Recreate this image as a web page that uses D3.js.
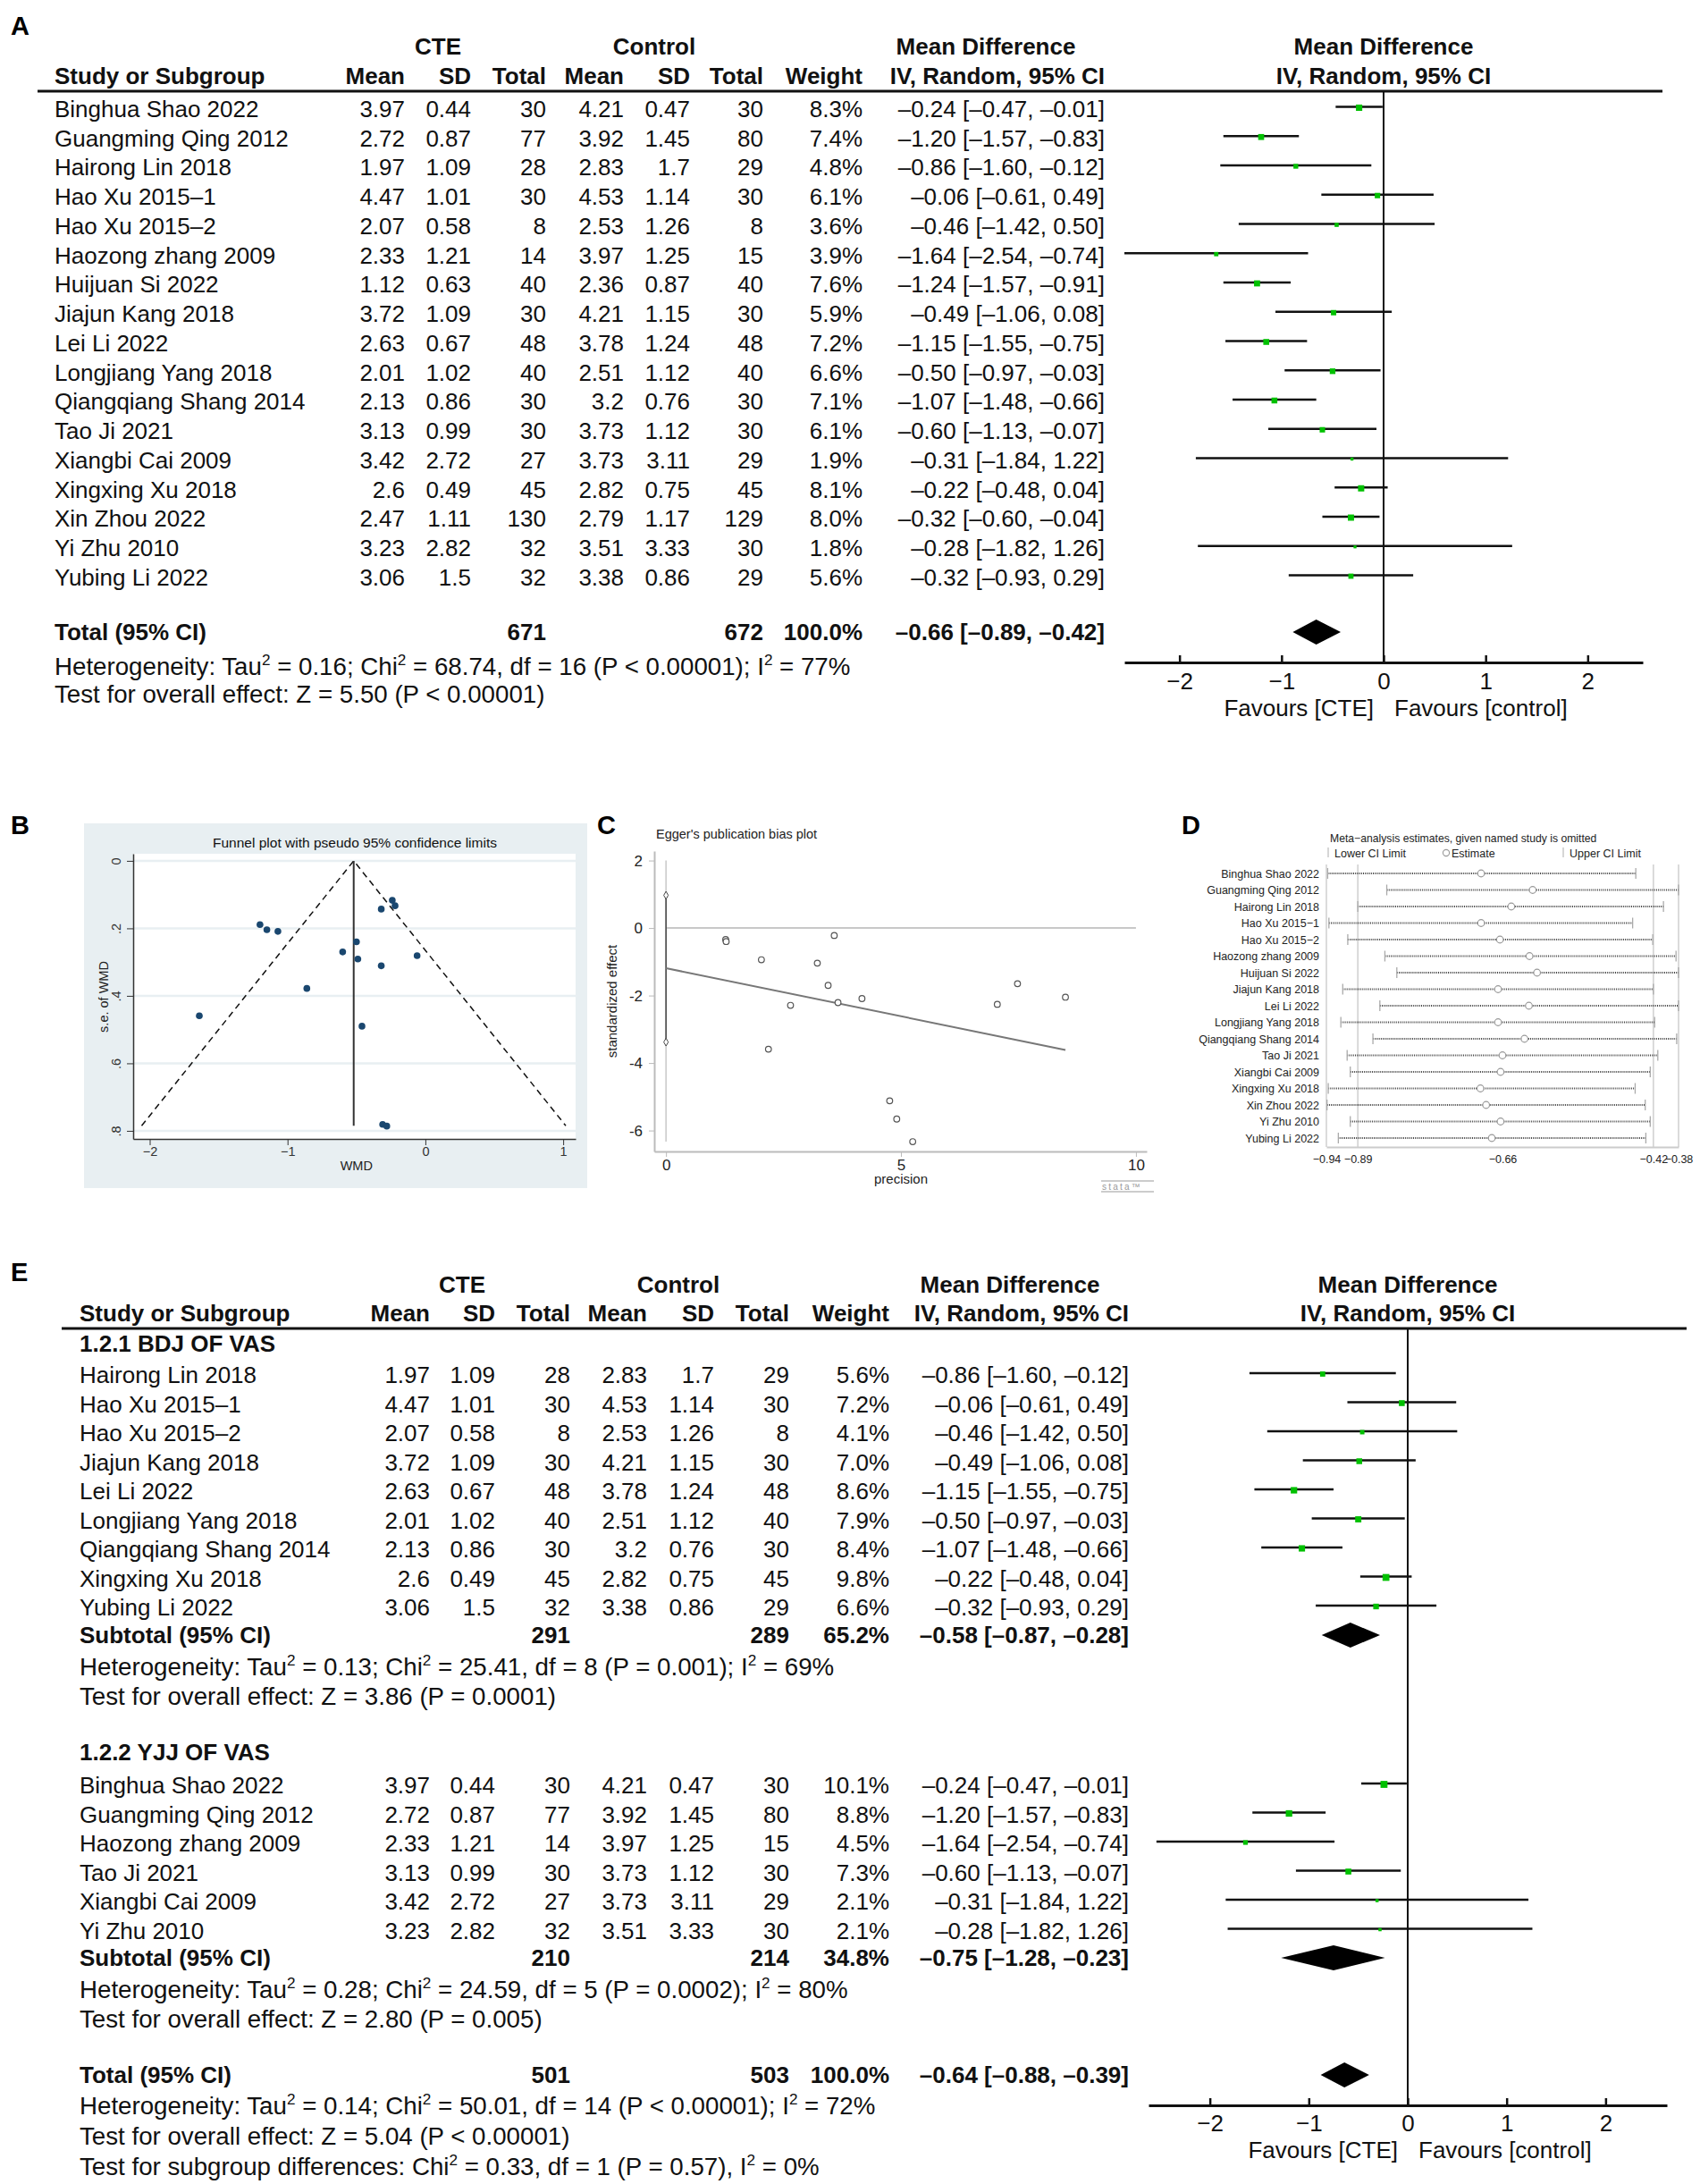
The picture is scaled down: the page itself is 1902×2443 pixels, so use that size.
<!DOCTYPE html>
<html><head><meta charset="utf-8">
<script src="https://cdn.jsdelivr.net/npm/d3@7"></script>
<style>body{margin:0;background:#fff} svg{display:block} text{font-family:"Liberation Sans",Arial,Helvetica,sans-serif}</style>
</head><body><svg id="c" width="1902" height="2443"></svg>
<script>
// ---------------- DATA ----------------
const studies = ["Binghua Shao 2022","Guangming Qing 2012","Hairong Lin 2018","Hao Xu 2015–1","Hao Xu 2015–2","Haozong zhang 2009","Huijuan Si 2022","Jiajun Kang 2018","Lei Li 2022","Longjiang Yang 2018","Qiangqiang Shang 2014","Tao Ji 2021","Xiangbi Cai 2009","Xingxing Xu 2018","Xin Zhou 2022","Yi Zhu 2010","Yubing Li 2022"];
const cteMean = [3.97,2.72,1.97,4.47,2.07,2.33,1.12,3.72,2.63,2.01,2.13,3.13,3.42,2.6,2.47,3.23,3.06];
const cteSD   = [0.44,0.87,1.09,1.01,0.58,1.21,0.63,1.09,0.67,1.02,0.86,0.99,2.72,0.49,1.11,2.82,1.5];
const cteN    = [30,77,28,30,8,14,40,30,48,40,30,30,27,45,130,32,32];
const ctlMean = [4.21,3.92,2.83,4.53,2.53,3.97,2.36,4.21,3.78,2.51,3.2,3.73,3.73,2.82,2.79,3.51,3.38];
const ctlSD   = [0.47,1.45,1.7,1.14,1.26,1.25,0.87,1.15,1.24,1.12,0.76,1.12,3.11,0.75,1.17,3.33,0.86];
const ctlN    = [30,80,29,30,8,15,40,30,48,40,30,30,29,45,129,30,29];
const weightA = [8.3,7.4,4.8,6.1,3.6,3.9,7.6,5.9,7.2,6.6,7.1,6.1,1.9,8.1,8.0,1.8,5.6];
const mdVal   = [-0.24,-1.20,-0.86,-0.06,-0.46,-1.64,-1.24,-0.49,-1.15,-0.50,-1.07,-0.60,-0.31,-0.22,-0.32,-0.28,-0.32];
const mdLo    = [-0.47,-1.57,-1.60,-0.61,-1.42,-2.54,-1.57,-1.06,-1.55,-0.97,-1.48,-1.13,-1.84,-0.48,-0.60,-1.82,-0.93];
const mdHi    = [-0.01,-0.83,-0.12,0.49,0.50,-0.74,-0.91,0.08,-0.75,-0.03,-0.66,-0.07,1.22,0.04,-0.04,1.26,0.29];
const totalA  = [671, 672, 100.0, -0.66, -0.89, -0.42];
const notesA  = ["Heterogeneity: Tau² = 0.16; Chi² = 68.74, df = 16 (P < 0.00001); I² = 77%","Test for overall effect: Z = 5.50 (P < 0.00001)"];

const groupNames    = ["1.2.1 BDJ OF VAS","1.2.2 YJJ OF VAS"];
const group1Studies = ["Hairong Lin 2018","Hao Xu 2015–1","Hao Xu 2015–2","Jiajun Kang 2018","Lei Li 2022","Longjiang Yang 2018","Qiangqiang Shang 2014","Xingxing Xu 2018","Yubing Li 2022"];
const group1Weights = [5.6,7.2,4.1,7.0,8.6,7.9,8.4,9.8,6.6];
const group2Studies = ["Binghua Shao 2022","Guangming Qing 2012","Haozong zhang 2009","Tao Ji 2021","Xiangbi Cai 2009","Yi Zhu 2010"];
const group2Weights = [10.1,8.8,4.5,7.3,2.1,2.1];
const subtotal1 = [291, 289, 65.2, -0.58, -0.87, -0.28];
const subtotal2 = [210, 214, 34.8, -0.75, -1.28, -0.23];
const totalE    = [501, 503, 100.0, -0.64, -0.88, -0.39];
const notes1 = ["Heterogeneity: Tau² = 0.13; Chi² = 25.41, df = 8 (P = 0.001); I² = 69%","Test for overall effect: Z = 3.86 (P = 0.0001)"];
const notes2 = ["Heterogeneity: Tau² = 0.28; Chi² = 24.59, df = 5 (P = 0.0002); I² = 80%","Test for overall effect: Z = 2.80 (P = 0.005)"];
const notesE = ["Heterogeneity: Tau² = 0.14; Chi² = 50.01, df = 14 (P < 0.00001); I² = 72%","Test for overall effect: Z = 5.04 (P < 0.00001)","Test for subgroup differences: Chi² = 0.33, df = 1 (P = 0.57), I² = 0%"];

const axisTicks = [-2,-1,0,1,2];

// Funnel plot (B)
const funnelWMD = [-0.24,-0.22,-0.32,-1.20,-1.15,-1.07,-0.50,-0.60,-0.49,-0.06,-0.32,-0.86,-1.64,-0.46,-0.31,-0.28];
const funnelSE  = [0.117,0.133,0.143,0.189,0.204,0.209,0.240,0.270,0.291,0.281,0.311,0.378,0.459,0.490,0.781,0.786];
const funnelCenter = -0.52;
const funnelMaxSE = 0.785;
const funnelYTicks = [0,0.2,0.4,0.6,0.8];
const funnelXTicks = [-2,-1,0,1];

// Egger plot (C)
const eggerPrecision = [1.27,1.28,2.03,2.18,2.65,3.22,3.45,3.58,3.66,4.17,4.76,4.91,5.25,7.05,7.48,8.50];
const eggerEffect    = [-0.34,-0.40,-0.94,-3.59,-2.29,-1.04,-1.70,-0.22,-2.21,-2.09,-5.12,-5.66,-6.33,-2.26,-1.65,-2.05];
const eggerIntercept = -1.19, eggerSlope = -0.285, eggerFitEnd = 8.5;
const eggerCI = [0.97, -3.38];
const eggerYTicks = [2,0,-2,-4,-6];
const eggerXTicks = [0,5,10];

// Sensitivity (D)
const sensStudies = ["Binghua Shao 2022","Guangming Qing 2012","Hairong Lin 2018","Hao Xu 2015−1","Hao Xu 2015−2","Haozong zhang 2009","Huijuan Si 2022","Jiajun Kang 2018","Lei Li 2022","Longjiang Yang 2018","Qiangqiang Shang 2014","Tao Ji 2021","Xiangbi Cai 2009","Xingxing Xu 2018","Xin Zhou 2022","Yi Zhu 2010","Yubing Li 2022"];
const sensLower = [-0.938,-0.844,-0.890,-0.936,-0.906,-0.847,-0.828,-0.914,-0.855,-0.917,-0.866,-0.907,-0.902,-0.937,-0.939,-0.902,-0.921];
const sensEst   = [-0.694,-0.612,-0.646,-0.694,-0.664,-0.617,-0.605,-0.667,-0.618,-0.667,-0.625,-0.660,-0.663,-0.695,-0.686,-0.663,-0.677];
const sensUpper = [-0.448,-0.380,-0.404,-0.453,-0.421,-0.384,-0.380,-0.420,-0.380,-0.418,-0.383,-0.413,-0.425,-0.449,-0.433,-0.425,-0.432];
const sensTicks = [-0.94,-0.89,-0.66,-0.42,-0.38];
const sensGrid  = [-0.94,-0.89,-0.42,-0.38];

// ---------------- DRAWING ----------------
const FONT = '"Liberation Sans", Arial, Helvetica, sans-serif';
const svg = d3.select("#c");
const fmt2 = d3.format(".2f"), fmt1 = d3.format(".1f");
const GREEN = "#00c000";
const NOTE_FS = 27.7;

function addRich(t, s, size) {
  s.split("²").forEach((p, i) => {
    if (i > 0) {
      t.append("tspan").attr("dy", -0.4*size).attr("font-size", 0.62*size).text("2");
      t.append("tspan").attr("dy", 0.4*size).text(p);
    } else t.append("tspan").text(p);
  });
}
function T(g, x, yc, s, o = {}) {
  const size = o.size || 26;
  const t = g.append("text").attr("x", x).attr("y", yc + size*0.36)
    .attr("text-anchor", o.anchor || "start").attr("font-size", size)
    .attr("fill", o.fill || "#111");
  if (o.bold) t.attr("font-weight", "bold");
  addRich(t, String(s), size);
  return t;
}
const hy = v => fmt2(v).replace("−", "–");
function ciText(m, l, h) { return `${hy(m)} [${hy(l)}, ${hy(h)}]`; }

function drawForest(L, rows) {
  const g = svg.append("g");
  const x = d3.scaleLinear().domain(L.domain).range(L.range);
  T(g, L.cteC, L.h1, "CTE", {anchor:"middle", bold:true});
  T(g, L.ctlC, L.h1, "Control", {anchor:"middle", bold:true});
  T(g, L.mdC, L.h1, "Mean Difference", {anchor:"middle", bold:true});
  T(g, x(0), L.h1, "Mean Difference", {anchor:"middle", bold:true});
  T(g, L.nameX, L.h2, "Study or Subgroup", {bold:true});
  ["Mean","SD","Total","Mean","SD","Total","Weight","IV, Random, 95% CI"].forEach((h, i) =>
    T(g, L.cols[i], L.h2, h, {anchor:"end", bold:true}));
  T(g, x(0), L.h2, "IV, Random, 95% CI", {anchor:"middle", bold:true});
  g.append("line").attr("x1", L.ruleX[0]).attr("x2", L.ruleX[1]).attr("y1", L.ruleY).attr("y2", L.ruleY)
    .attr("stroke", "#111").attr("stroke-width", 3);
  g.append("line").attr("x1", x(0)).attr("x2", x(0)).attr("y1", L.ruleY).attr("y2", L.axisY)
    .attr("stroke", "#111").attr("stroke-width", 2);

  rows.forEach(r => {
    if (r.type === "study") {
      T(g, L.nameX, r.y, r.name);
      r.vals.forEach((v, i) => T(g, L.cols[i], r.y, v, {anchor:"end"}));
      T(g, L.cols[6], r.y, fmt1(r.w) + "%", {anchor:"end"});
      T(g, L.cols[7], r.y, ciText(r.md, r.lo, r.hi), {anchor:"end"});
      g.append("line").attr("x1", x(r.lo)).attr("x2", x(r.hi)).attr("y1", r.y - 2).attr("y2", r.y - 2)
        .attr("stroke", "#111").attr("stroke-width", 2.6);
      const s = 2.45 * Math.sqrt(r.w);
      g.append("rect").attr("x", x(r.md) - s/2).attr("y", r.y - 2 - s/2 + 1).attr("width", s).attr("height", s)
        .attr("fill", GREEN);
    } else if (r.type === "total") {
      const v = r.v;
      T(g, L.nameX, r.y, r.label, {bold:true});
      T(g, L.cols[2], r.y, v[0], {anchor:"end", bold:true});
      T(g, L.cols[5], r.y, v[1], {anchor:"end", bold:true});
      T(g, L.cols[6], r.y, fmt1(v[2]) + "%", {anchor:"end", bold:true});
      T(g, L.cols[7], r.y, ciText(v[3], v[4], v[5]), {anchor:"end", bold:true});
      const h = 14;
      g.append("path").attr("d", `M${x(v[4])},${r.y}L${x(v[3])},${r.y-h}L${x(v[5])},${r.y}L${x(v[3])},${r.y+h}Z`)
        .attr("fill", "#000");
    } else if (r.type === "group") {
      T(g, L.nameX, r.y, r.label, {bold:true});
    } else if (r.type === "note") {
      T(g, L.nameX, r.y, r.text, {size:NOTE_FS});
    }
  });

  const ax = g.append("g").attr("transform", `translate(0,${L.axisY})`)
    .call(d3.axisBottom(x).tickValues(axisTicks).tickSize(-8).tickSizeOuter(0).tickPadding(L.tickPad).tickFormat(d3.format("d")));
  ax.attr("font-family", FONT).attr("font-size", 26).attr("color", "#111");
  ax.select(".domain").attr("stroke-width", 3);
  ax.selectAll(".tick line").attr("stroke-width", 2.5);
  T(g, x(0) - 11, L.favY, "Favours [CTE]", {anchor:"end"});
  T(g, x(0) + 12, L.favY, "Favours [control]", {anchor:"start"});
}

// ---- Panel A ----
{
  const L = {nameX:61, cols:[453,527,611,698,772,854,965,1236], cteC:490, ctlC:732, mdC:1103,
    h1:52, h2:85, ruleY:102, ruleX:[42,1860], domain:[-2.54,2.54], range:[1258,1838],
    axisY:741, tickPad:12, favY:792};
  const rows = studies.map((s, i) => ({type:"study", y:121.5 + 32.75*i, name:s,
    vals:[cteMean[i], cteSD[i], cteN[i], ctlMean[i], ctlSD[i], ctlN[i]], w:weightA[i], md:mdVal[i], lo:mdLo[i], hi:mdHi[i]}));
  rows.push({type:"total", y:707, label:"Total (95% CI)", v:totalA});
  rows.push({type:"note", y:745, text:notesA[0]});
  rows.push({type:"note", y:776, text:notesA[1]});
  drawForest(L, rows);
}

// ---- Panel E ----
{
  const L = {nameX:89, cols:[481,554,638,724,799,883,995,1263], cteC:517, ctlC:759, mdC:1130,
    h1:1437, h2:1469, ruleY:1486, ruleX:[69,1887], domain:[-2.62,2.62], range:[1285,1865],
    axisY:2355, tickPad:11, favY:2405};
  const mk = (name, w, y) => { const i = studies.indexOf(name); return {type:"study", y, name,
    vals:[cteMean[i], cteSD[i], cteN[i], ctlMean[i], ctlSD[i], ctlN[i]], w, md:mdVal[i], lo:mdLo[i], hi:mdHi[i]}; };
  const rows = [];
  rows.push({type:"group", y:1503, label:groupNames[0]});
  group1Studies.forEach((s, i) => rows.push(mk(s, group1Weights[i], 1538 + 32.5*i)));
  rows.push({type:"total", y:1829, label:"Subtotal (95% CI)", v:subtotal1});
  rows.push({type:"note", y:1864, text:notes1[0]});
  rows.push({type:"note", y:1897, text:notes1[1]});
  rows.push({type:"group", y:1960, label:groupNames[1]});
  group2Studies.forEach((s, i) => rows.push(mk(s, group2Weights[i], 1997 + 32.5*i)));
  rows.push({type:"total", y:2190, label:"Subtotal (95% CI)", v:subtotal2});
  rows.push({type:"note", y:2225, text:notes2[0]});
  rows.push({type:"note", y:2258, text:notes2[1]});
  rows.push({type:"total", y:2321, label:"Total (95% CI)", v:totalE});
  rows.push({type:"note", y:2355, text:notesE[0]});
  rows.push({type:"note", y:2389, text:notesE[1]});
  rows.push({type:"note", y:2423, text:notesE[2]});
  drawForest(L, rows);
}

// ---- Panel B: funnel ----
{
  const g = svg.append("g");
  const BG = "#e8eff2";
  g.append("rect").attr("x", 94).attr("y", 921).attr("width", 563).attr("height", 408).attr("fill", BG);
  const x = d3.scaleLinear().domain([-2.12, 1.09]).range([149, 644]);
  const y = d3.scaleLinear().domain([-0.021, 0.824]).range([955, 1274]);
  g.append("rect").attr("x", 149).attr("y", 955).attr("width", 495).attr("height", 319).attr("fill", "#fff");
  g.selectAll("line.grid").data(funnelYTicks).join("line").attr("class", "grid")
    .attr("x1", 149).attr("x2", 644).attr("y1", d => y(d)).attr("y2", d => y(d))
    .attr("stroke", BG).attr("stroke-width", 2.5);
  const ay = g.append("g").attr("transform", "translate(149,0)")
    .call(d3.axisLeft(y).tickValues(funnelYTicks).tickSize(7).tickSizeOuter(0)
      .tickFormat(d => d === 0 ? "0" : fmt1(d).replace(/^0/, "")));
  ay.attr("font-family", FONT).attr("font-size", 14.5).attr("color", "#333");
  ay.selectAll("text").attr("x", null).attr("dy", null).attr("text-anchor", "middle")
    .attr("transform", "translate(-14,0) rotate(-90)");
  ay.select(".domain").attr("stroke-width", 1.5);
  const ax = g.append("g").attr("transform", "translate(0,1274)")
    .call(d3.axisBottom(x).tickValues(funnelXTicks).tickSize(7).tickSizeOuter(0).tickPadding(2).tickFormat(d3.format("d")));
  ax.attr("font-family", FONT).attr("font-size", 14.5).attr("color", "#333");
  ax.select(".domain").attr("stroke-width", 1.5);
  T(g, 397, 942, "Funnel plot with pseudo 95% confidence limits", {anchor:"middle", size:15.5});
  T(g, x(-0.5), 1304, "WMD", {anchor:"middle", size:14.5, fill:"#222"});
  g.append("text").attr("transform", "translate(121,1115) rotate(-90)").attr("text-anchor", "middle")
    .attr("font-size", 14.5).attr("fill", "#222").text("s.e. of WMD");
  const dl = 1.96 * funnelMaxSE;
  g.append("path").attr("d", `M${x(funnelCenter - dl)},${y(funnelMaxSE)}L${x(funnelCenter)},${y(0)}L${x(funnelCenter + dl)},${y(funnelMaxSE)}`)
    .attr("fill", "none").attr("stroke", "#111").attr("stroke-width", 1.5).attr("stroke-dasharray", "7,5");
  g.append("line").attr("x1", x(funnelCenter)).attr("x2", x(funnelCenter)).attr("y1", y(0)).attr("y2", y(funnelMaxSE))
    .attr("stroke", "#333").attr("stroke-width", 2);
  g.selectAll("circle").data(funnelWMD).join("circle")
    .attr("cx", d => x(d)).attr("cy", (d, i) => y(funnelSE[i])).attr("r", 3.8).attr("fill", "#1a476f");
}

// ---- Panel C: Egger ----
{
  const g = svg.append("g");
  const x = d3.scaleLinear().domain([-0.25, 10.23]).range([732, 1283]);
  const y = d3.scaleLinear().domain([-6.62, 2.28]).range([1288, 952]);
  T(g, 734, 933, "Egger's publication bias plot", {size:14.5, fill:"#222"});
  const ay = g.append("g").attr("transform", "translate(732,0)")
    .call(d3.axisLeft(y).tickValues(eggerYTicks).tickSize(6).tickPadding(7).tickSizeOuter(0).tickFormat(d => String(d)));
  ay.attr("font-family", FONT).attr("font-size", 17).attr("color", "#bbb");
  ay.selectAll("text").attr("fill", "#222");
  ay.select(".domain").attr("stroke-width", 2);
  const ax = g.append("g").attr("transform", "translate(0,1288)")
    .call(d3.axisBottom(x).tickValues(eggerXTicks).tickSize(6).tickPadding(3).tickSizeOuter(0));
  ax.attr("font-family", FONT).attr("font-size", 17).attr("color", "#bbb");
  ax.selectAll("text").attr("fill", "#222");
  ax.select(".domain").attr("stroke-width", 2);
  T(g, x(5), 1319, "precision", {anchor:"middle", size:15, fill:"#222"});
  g.append("text").attr("transform", "translate(690,1120) rotate(-90)").attr("text-anchor", "middle")
    .attr("font-size", 15).attr("fill", "#222").text("standardized effect");
  g.append("line").attr("x1", x(0)).attr("x2", x(10)).attr("y1", y(0)).attr("y2", y(0))
    .attr("stroke", "#c8c8c8").attr("stroke-width", 2);
  g.append("line").attr("x1", x(0)).attr("x2", x(0)).attr("y1", y(2)).attr("y2", y(d3.min(eggerEffect)))
    .attr("stroke", "#c8c8c8").attr("stroke-width", 1.5);
  g.append("line").attr("x1", x(0)).attr("x2", x(0)).attr("y1", y(eggerCI[0])).attr("y2", y(eggerCI[1]))
    .attr("stroke", "#444").attr("stroke-width", 1.5);
  g.selectAll("path.cim").data(eggerCI).join("path").attr("class", "cim")
    .attr("transform", d => `translate(${x(0)},${y(d)})`).attr("d", d3.symbol(d3.symbolDiamond, 22))
    .attr("fill", "#fff").attr("stroke", "#444").attr("stroke-width", 1);
  g.append("line").attr("x1", x(0)).attr("x2", x(eggerFitEnd))
    .attr("y1", y(eggerIntercept)).attr("y2", y(eggerIntercept + eggerSlope*eggerFitEnd))
    .attr("stroke", "#777").attr("stroke-width", 2);
  g.selectAll("circle").data(eggerPrecision).join("circle")
    .attr("cx", d => x(d)).attr("cy", (d, i) => y(eggerEffect[i])).attr("r", 3.3)
    .attr("fill", "#fff").attr("stroke", "#555").attr("stroke-width", 1.2);
  g.append("line").attr("x1", 1232).attr("x2", 1291).attr("y1", 1321).attr("y2", 1321).attr("stroke", "#bbb").attr("stroke-width", 1.5);
  g.append("line").attr("x1", 1232).attr("x2", 1291).attr("y1", 1333).attr("y2", 1333).attr("stroke", "#bbb").attr("stroke-width", 1.5);
  g.append("text").attr("x", 1233).attr("y", 1331).attr("font-size", 10).attr("letter-spacing", 2.2)
    .attr("fill", "#999").text("stata™");
}

// ---- Panel D: sensitivity ----
{
  const g = svg.append("g");
  const x = d3.scaleLinear().domain([-0.94, -0.38]).range([1484, 1878]);
  const rowY = i => 977 + 18.5*i;
  T(g, 1488, 938, "Meta−analysis estimates, given named study is omitted", {size:12.2, fill:"#222"});
  g.append("line").attr("x1", 1486).attr("x2", 1486).attr("y1", 948).attr("y2", 959).attr("stroke", "#bbb").attr("stroke-width", 1.2);
  T(g, 1493, 954, "Lower CI Limit", {size:12.5, fill:"#222"});
  g.append("circle").attr("cx", 1618).attr("cy", 954).attr("r", 3.6).attr("fill", "none").attr("stroke", "#999").attr("stroke-width", 1.1);
  T(g, 1624, 954, "Estimate", {size:12.5, fill:"#222"});
  g.append("line").attr("x1", 1749).attr("x2", 1749).attr("y1", 948).attr("y2", 959).attr("stroke", "#bbb").attr("stroke-width", 1.2);
  T(g, 1756, 954, "Upper CI Limit", {size:12.5, fill:"#222"});
  g.selectAll("line.vg").data(sensGrid).join("line").attr("class", "vg")
    .attr("x1", d => x(d)).attr("x2", d => x(d)).attr("y1", 967).attr("y2", 1283)
    .attr("stroke", "#cfcfcf").attr("stroke-width", 1.5);
  const ax = g.append("g").attr("transform", "translate(0,1283)")
    .call(d3.axisBottom(x).tickValues(sensTicks).tickSize(0).tickPadding(9).tickSizeOuter(0).tickFormat(fmt2));
  ax.attr("font-family", FONT).attr("font-size", 12.5).attr("color", "#ccc");
  ax.selectAll("text").attr("fill", "#222");
  ax.select(".domain").attr("stroke-width", 2);
  sensStudies.forEach((s, i) => {
    const yc = rowY(i);
    T(g, 1476, yc, s, {anchor:"end", size:12.5, fill:"#222"});
    g.append("line").attr("x1", x(sensLower[i])).attr("x2", x(sensUpper[i])).attr("y1", yc).attr("y2", yc)
      .attr("stroke", "#444").attr("stroke-width", 2.2).attr("stroke-dasharray", "1,1.2");
    [sensLower[i], sensUpper[i]].forEach(v =>
      g.append("line").attr("x1", x(v)).attr("x2", x(v)).attr("y1", yc - 6).attr("y2", yc + 6)
        .attr("stroke", "#aaa").attr("stroke-width", 1.3));
    g.append("circle").attr("cx", x(sensEst[i])).attr("cy", yc).attr("r", 3.8)
      .attr("fill", "#fff").attr("stroke", "#999").attr("stroke-width", 1.2);
  });
}

// ---- Panel letters ----
[["A",12,39],["B",12,933],["C",668,933],["D",1322,933],["E",12,1433]].forEach(([l, x, y]) =>
  svg.append("text").attr("x", x).attr("y", y).attr("font-size", 29).attr("font-weight", "bold").attr("fill", "#000").text(l));
</script>
</body></html>
